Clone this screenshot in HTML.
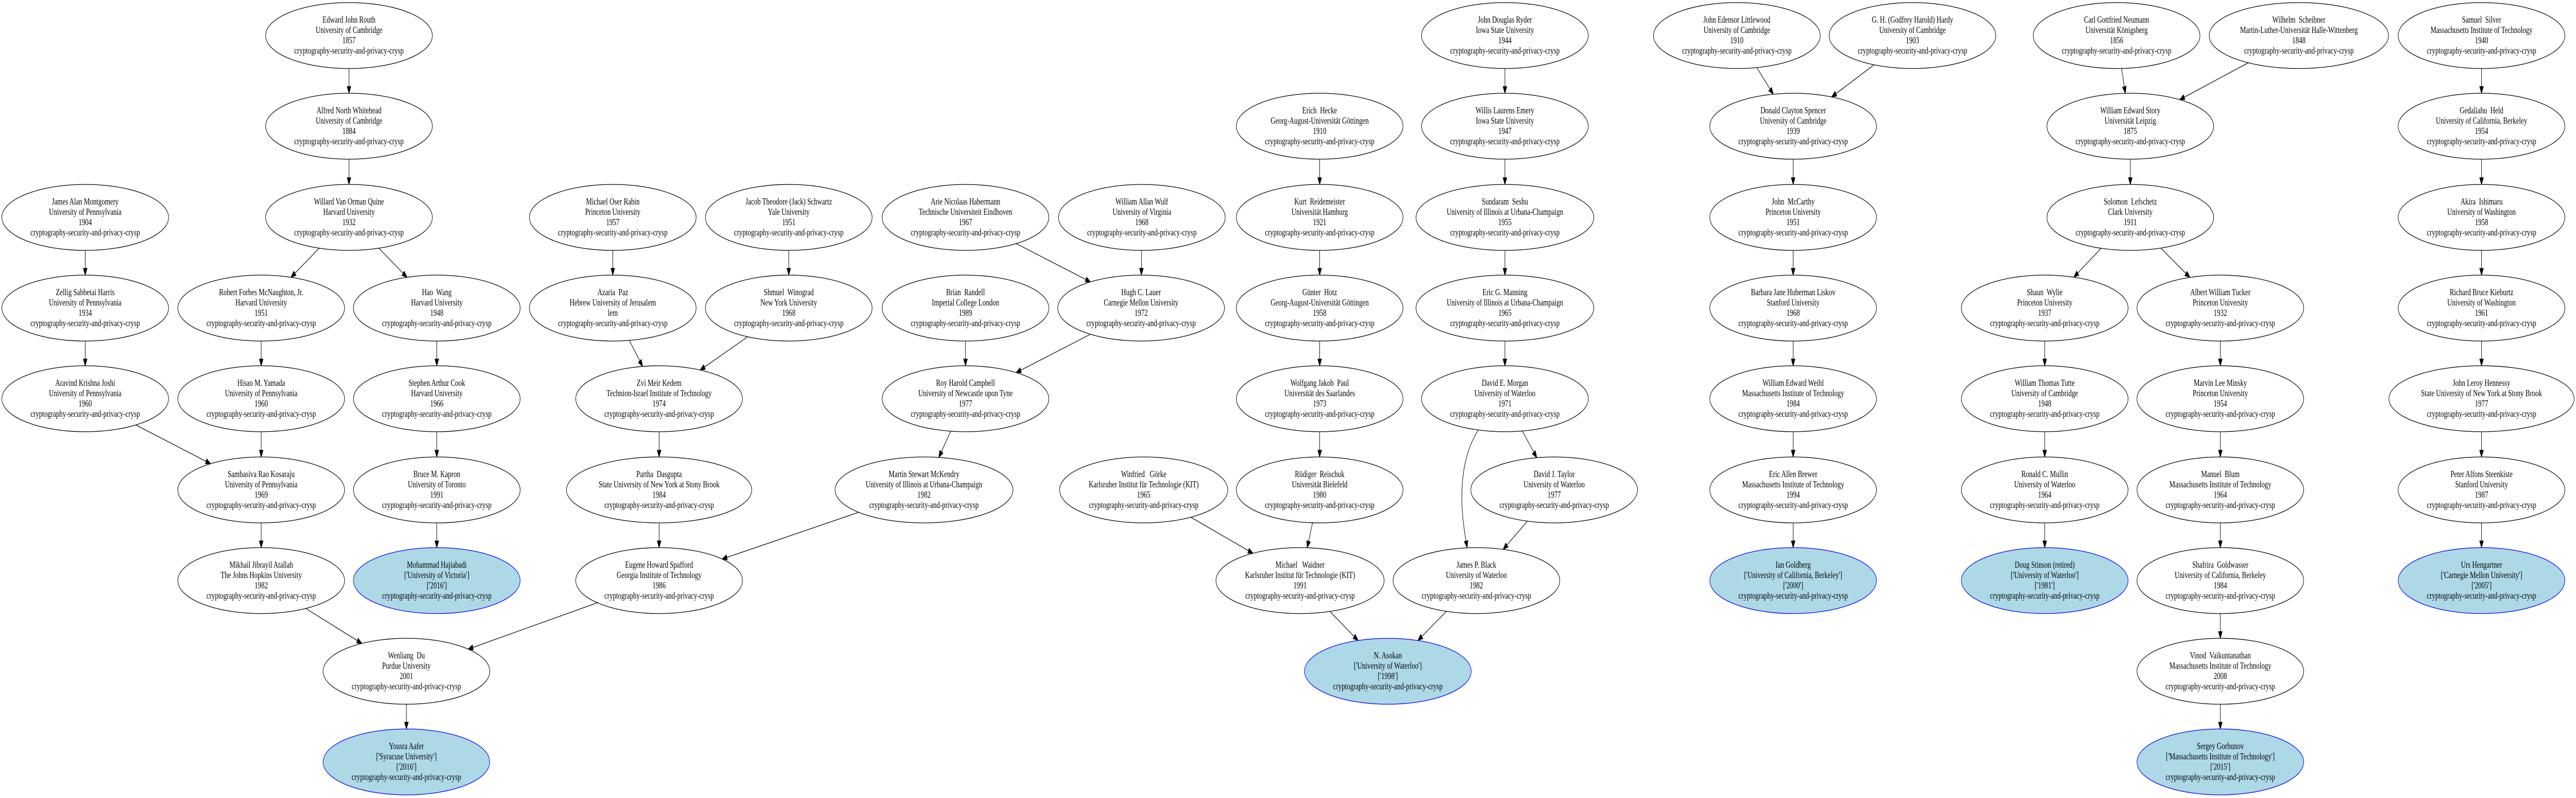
<!DOCTYPE html>
<html><head><meta charset="utf-8"><style>
html,body{margin:0;padding:0;background:#fff;width:100%;height:100%;overflow:hidden;}
svg{display:block;position:fixed;left:0;top:0;width:100vw;height:100vh;}
text{font-family:"Liberation Serif","Times New Roman",serif;font-size:18px;text-anchor:middle;white-space:pre;fill:#000;}
ellipse{fill:#fff;stroke:#000;stroke-width:1.3;}
ellipse.b{fill:#add8e6;stroke:#0000ff;}
</style></head><body>
<svg id="s" viewBox="0 0 6953 1549" preserveAspectRatio="none" xmlns="http://www.w3.org/2000/svg">
<g id="edges"></g>
<g id="nodes">
<g transform="translate(942,69)"><ellipse rx="225" ry="64"/><text><tspan x="0" y="-25">Edward John Routh</tspan><tspan x="0" y="-5">University of Cambridge</tspan><tspan x="0" y="15">1857</tspan><tspan x="0" y="35">cryptography-security-and-privacy-crysp</tspan></text></g>
<g transform="translate(942,245)"><ellipse rx="225" ry="64"/><text><tspan x="0" y="-25">Alfred North Whitehead</tspan><tspan x="0" y="-5">University of Cambridge</tspan><tspan x="0" y="15">1884</tspan><tspan x="0" y="35">cryptography-security-and-privacy-crysp</tspan></text></g>
<g transform="translate(942,422)"><ellipse rx="225" ry="64"/><text><tspan x="0" y="-25">Willard Van Orman Quine</tspan><tspan x="0" y="-5">Harvard University</tspan><tspan x="0" y="15">1932</tspan><tspan x="0" y="35">cryptography-security-and-privacy-crysp</tspan></text></g>
<g transform="translate(230,422)"><ellipse rx="225" ry="64"/><text><tspan x="0" y="-25">James Alan Montgomery</tspan><tspan x="0" y="-5">University of Pennsylvania</tspan><tspan x="0" y="15">1904</tspan><tspan x="0" y="35">cryptography-security-and-privacy-crysp</tspan></text></g>
<g transform="translate(230,598)"><ellipse rx="225" ry="64"/><text><tspan x="0" y="-25">Zellig Sabbetai Harris</tspan><tspan x="0" y="-5">University of Pennsylvania</tspan><tspan x="0" y="15">1934</tspan><tspan x="0" y="35">cryptography-security-and-privacy-crysp</tspan></text></g>
<g transform="translate(705,598)"><ellipse rx="225" ry="64"/><text><tspan x="0" y="-25">Robert Forbes McNaughton, Jr.</tspan><tspan x="0" y="-5">Harvard University</tspan><tspan x="0" y="15">1951</tspan><tspan x="0" y="35">cryptography-security-and-privacy-crysp</tspan></text></g>
<g transform="translate(1179,598)"><ellipse rx="225" ry="64"/><text><tspan x="0" y="-25">Hao  Wang</tspan><tspan x="0" y="-5">Harvard University</tspan><tspan x="0" y="15">1948</tspan><tspan x="0" y="35">cryptography-security-and-privacy-crysp</tspan></text></g>
<g transform="translate(230,774)"><ellipse rx="225" ry="64"/><text><tspan x="0" y="-25">Aravind Krishna Joshi</tspan><tspan x="0" y="-5">University of Pennsylvania</tspan><tspan x="0" y="15">1960</tspan><tspan x="0" y="35">cryptography-security-and-privacy-crysp</tspan></text></g>
<g transform="translate(705,774)"><ellipse rx="225" ry="64"/><text><tspan x="0" y="-25">Hisao M. Yamada</tspan><tspan x="0" y="-5">University of Pennsylvania</tspan><tspan x="0" y="15">1960</tspan><tspan x="0" y="35">cryptography-security-and-privacy-crysp</tspan></text></g>
<g transform="translate(1179,774)"><ellipse rx="225" ry="64"/><text><tspan x="0" y="-25">Stephen Arthur Cook</tspan><tspan x="0" y="-5">Harvard University</tspan><tspan x="0" y="15">1966</tspan><tspan x="0" y="35">cryptography-security-and-privacy-crysp</tspan></text></g>
<g transform="translate(705,951)"><ellipse rx="225" ry="64"/><text><tspan x="0" y="-25">Sambasiva Rao Kosaraju</tspan><tspan x="0" y="-5">University of Pennsylvania</tspan><tspan x="0" y="15">1969</tspan><tspan x="0" y="35">cryptography-security-and-privacy-crysp</tspan></text></g>
<g transform="translate(1179,951)"><ellipse rx="225" ry="64"/><text><tspan x="0" y="-25">Bruce M. Kapron</tspan><tspan x="0" y="-5">University of Toronto</tspan><tspan x="0" y="15">1991</tspan><tspan x="0" y="35">cryptography-security-and-privacy-crysp</tspan></text></g>
<g transform="translate(705,1127)"><ellipse rx="225" ry="64"/><text><tspan x="0" y="-25">Mikhail Jibrayil Atallah</tspan><tspan x="0" y="-5">The Johns Hopkins University</tspan><tspan x="0" y="15">1982</tspan><tspan x="0" y="35">cryptography-security-and-privacy-crysp</tspan></text></g>
<g transform="translate(1179,1127)"><ellipse class="b" rx="225" ry="64"/><text><tspan x="0" y="-25">Mohammad Hajiabadi</tspan><tspan x="0" y="-5">['University of Victoria']</tspan><tspan x="0" y="15">['2016']</tspan><tspan x="0" y="35">cryptography-security-and-privacy-crysp</tspan></text></g>
<g transform="translate(1097,1303)"><ellipse rx="225" ry="64"/><text><tspan x="0" y="-25">Wenliang  Du</tspan><tspan x="0" y="-5">Purdue University</tspan><tspan x="0" y="15">2001</tspan><tspan x="0" y="35">cryptography-security-and-privacy-crysp</tspan></text></g>
<g transform="translate(1097,1479)"><ellipse class="b" rx="225" ry="64"/><text><tspan x="0" y="-25">Yousra Aafer</tspan><tspan x="0" y="-5">['Syracuse University']</tspan><tspan x="0" y="15">['2016']</tspan><tspan x="0" y="35">cryptography-security-and-privacy-crysp</tspan></text></g>

<g transform="translate(1654,422)"><ellipse rx="225" ry="64"/><text><tspan x="0" y="-25">Michael Oser Rabin</tspan><tspan x="0" y="-5">Princeton University</tspan><tspan x="0" y="15">1957</tspan><tspan x="0" y="35">cryptography-security-and-privacy-crysp</tspan></text></g>
<g transform="translate(2129,422)"><ellipse rx="225" ry="64"/><text><tspan x="0" y="-25">Jacob Theodore (Jack) Schwartz</tspan><tspan x="0" y="-5">Yale University</tspan><tspan x="0" y="15">1951</tspan><tspan x="0" y="35">cryptography-security-and-privacy-crysp</tspan></text></g>
<g transform="translate(2606,422)"><ellipse rx="225" ry="64"/><text><tspan x="0" y="-25">Arie Nicolaas Habermann</tspan><tspan x="0" y="-5">Technische Universiteit Eindhoven</tspan><tspan x="0" y="15">1967</tspan><tspan x="0" y="35">cryptography-security-and-privacy-crysp</tspan></text></g>
<g transform="translate(3082,422)"><ellipse rx="225" ry="64"/><text><tspan x="0" y="-25">William Allan Wulf</tspan><tspan x="0" y="-5">University of Virginia</tspan><tspan x="0" y="15">1968</tspan><tspan x="0" y="35">cryptography-security-and-privacy-crysp</tspan></text></g>
<g transform="translate(1654,598)"><ellipse rx="225" ry="64"/><text><tspan x="0" y="-25">Azaria  Paz</tspan><tspan x="0" y="-5">Hebrew University of Jerusalem</tspan><tspan x="0" y="15">lem</tspan><tspan x="0" y="35">cryptography-security-and-privacy-crysp</tspan></text></g>
<g transform="translate(2129,598)"><ellipse rx="225" ry="64"/><text><tspan x="0" y="-25">Shmuel  Winograd</tspan><tspan x="0" y="-5">New York University</tspan><tspan x="0" y="15">1968</tspan><tspan x="0" y="35">cryptography-security-and-privacy-crysp</tspan></text></g>
<g transform="translate(2606,598)"><ellipse rx="225" ry="64"/><text><tspan x="0" y="-25">Brian  Randell</tspan><tspan x="0" y="-5">Imperial College London</tspan><tspan x="0" y="15">1989</tspan><tspan x="0" y="35">cryptography-security-and-privacy-crysp</tspan></text></g>
<g transform="translate(3080,598)"><ellipse rx="225" ry="64"/><text><tspan x="0" y="-25">Hugh C. Lauer</tspan><tspan x="0" y="-5">Carnegie Mellon University</tspan><tspan x="0" y="15">1972</tspan><tspan x="0" y="35">cryptography-security-and-privacy-crysp</tspan></text></g>
<g transform="translate(1779,774)"><ellipse rx="225" ry="64"/><text><tspan x="0" y="-25">Zvi Meir Kedem</tspan><tspan x="0" y="-5">Technion-Israel Institute of Technology</tspan><tspan x="0" y="15">1974</tspan><tspan x="0" y="35">cryptography-security-and-privacy-crysp</tspan></text></g>
<g transform="translate(2606,774)"><ellipse rx="225" ry="64"/><text><tspan x="0" y="-25">Roy Harold Campbell</tspan><tspan x="0" y="-5">University of Newcastle upon Tyne</tspan><tspan x="0" y="15">1977</tspan><tspan x="0" y="35">cryptography-security-and-privacy-crysp</tspan></text></g>
<g transform="translate(1779,951)"><ellipse rx="250" ry="64"/><text><tspan x="0" y="-25">Partha  Dasgupta</tspan><tspan x="0" y="-5">State University of New York at Stony Brook</tspan><tspan x="0" y="15">1984</tspan><tspan x="0" y="35">cryptography-security-and-privacy-crysp</tspan></text></g>
<g transform="translate(2494,951)"><ellipse rx="240" ry="64"/><text><tspan x="0" y="-25">Martin Stewart McKendry</tspan><tspan x="0" y="-5">University of Illinois at Urbana-Champaign</tspan><tspan x="0" y="15">1982</tspan><tspan x="0" y="35">cryptography-security-and-privacy-crysp</tspan></text></g>
<g transform="translate(1779,1127)"><ellipse rx="225" ry="64"/><text><tspan x="0" y="-25">Eugene Howard Spafford</tspan><tspan x="0" y="-5">Georgia Institute of Technology</tspan><tspan x="0" y="15">1986</tspan><tspan x="0" y="35">cryptography-security-and-privacy-crysp</tspan></text></g>

<g transform="translate(3562,245)"><ellipse rx="225" ry="64"/><text><tspan x="0" y="-25">Erich  Hecke</tspan><tspan x="0" y="-5">Georg-August-Universität Göttingen</tspan><tspan x="0" y="15">1910</tspan><tspan x="0" y="35">cryptography-security-and-privacy-crysp</tspan></text></g>
<g transform="translate(3562,422)"><ellipse rx="225" ry="64"/><text><tspan x="0" y="-25">Kurt  Reidemeister</tspan><tspan x="0" y="-5">Universität Hamburg</tspan><tspan x="0" y="15">1921</tspan><tspan x="0" y="35">cryptography-security-and-privacy-crysp</tspan></text></g>
<g transform="translate(3562,598)"><ellipse rx="225" ry="64"/><text><tspan x="0" y="-25">Günter  Hotz</tspan><tspan x="0" y="-5">Georg-August-Universität Göttingen</tspan><tspan x="0" y="15">1958</tspan><tspan x="0" y="35">cryptography-security-and-privacy-crysp</tspan></text></g>
<g transform="translate(3562,774)"><ellipse rx="225" ry="64"/><text><tspan x="0" y="-25">Wolfgang Jakob  Paul</tspan><tspan x="0" y="-5">Universität des Saarlandes</tspan><tspan x="0" y="15">1973</tspan><tspan x="0" y="35">cryptography-security-and-privacy-crysp</tspan></text></g>
<g transform="translate(3562,951)"><ellipse rx="225" ry="64"/><text><tspan x="0" y="-25">Rüdiger  Reischuk</tspan><tspan x="0" y="-5">Universität Bielefeld</tspan><tspan x="0" y="15">1980</tspan><tspan x="0" y="35">cryptography-security-and-privacy-crysp</tspan></text></g>
<g transform="translate(3087,951)"><ellipse rx="227" ry="64"/><text><tspan x="0" y="-25">Winfried   Görke</tspan><tspan x="0" y="-5">Karlsruher Institut für Technologie (KIT)</tspan><tspan x="0" y="15">1965</tspan><tspan x="0" y="35">cryptography-security-and-privacy-crysp</tspan></text></g>
<g transform="translate(3509,1127)"><ellipse rx="227" ry="64"/><text><tspan x="0" y="-25">Michael   Waidner</tspan><tspan x="0" y="-5">Karlsruher Institut für Technologie (KIT)</tspan><tspan x="0" y="15">1991</tspan><tspan x="0" y="35">cryptography-security-and-privacy-crysp</tspan></text></g>
<g transform="translate(3746,1303)"><ellipse class="b" rx="225" ry="64"/><text><tspan x="0" y="-25">N. Asokan</tspan><tspan x="0" y="-5">['University of Waterloo']</tspan><tspan x="0" y="15">['1998']</tspan><tspan x="0" y="35">cryptography-security-and-privacy-crysp</tspan></text></g>

<g transform="translate(4062,69)"><ellipse rx="225" ry="64"/><text><tspan x="0" y="-25">John Douglas Ryder</tspan><tspan x="0" y="-5">Iowa State University</tspan><tspan x="0" y="15">1944</tspan><tspan x="0" y="35">cryptography-security-and-privacy-crysp</tspan></text></g>
<g transform="translate(4062,245)"><ellipse rx="225" ry="64"/><text><tspan x="0" y="-25">Willis Laurens Emery</tspan><tspan x="0" y="-5">Iowa State University</tspan><tspan x="0" y="15">1947</tspan><tspan x="0" y="35">cryptography-security-and-privacy-crysp</tspan></text></g>
<g transform="translate(4062,422)"><ellipse rx="240" ry="64"/><text><tspan x="0" y="-25">Sundaram  Seshu</tspan><tspan x="0" y="-5">University of Illinois at Urbana-Champaign</tspan><tspan x="0" y="15">1955</tspan><tspan x="0" y="35">cryptography-security-and-privacy-crysp</tspan></text></g>
<g transform="translate(4062,598)"><ellipse rx="240" ry="64"/><text><tspan x="0" y="-25">Eric G. Manning</tspan><tspan x="0" y="-5">University of Illinois at Urbana-Champaign</tspan><tspan x="0" y="15">1965</tspan><tspan x="0" y="35">cryptography-security-and-privacy-crysp</tspan></text></g>
<g transform="translate(4062,774)"><ellipse rx="225" ry="64"/><text><tspan x="0" y="-25">David E. Morgan</tspan><tspan x="0" y="-5">University of Waterloo</tspan><tspan x="0" y="15">1971</tspan><tspan x="0" y="35">cryptography-security-and-privacy-crysp</tspan></text></g>
<g transform="translate(4195,951)"><ellipse rx="225" ry="64"/><text><tspan x="0" y="-25">David J. Taylor</tspan><tspan x="0" y="-5">University of Waterloo</tspan><tspan x="0" y="15">1977</tspan><tspan x="0" y="35">cryptography-security-and-privacy-crysp</tspan></text></g>
<g transform="translate(3985,1127)"><ellipse rx="225" ry="64"/><text><tspan x="0" y="-25">James P. Black</tspan><tspan x="0" y="-5">University of Waterloo</tspan><tspan x="0" y="15">1982</tspan><tspan x="0" y="35">cryptography-security-and-privacy-crysp</tspan></text></g>

<g transform="translate(4688,69)"><ellipse rx="225" ry="64"/><text><tspan x="0" y="-25">John Edensor Littlewood</tspan><tspan x="0" y="-5">University of Cambridge</tspan><tspan x="0" y="15">1910</tspan><tspan x="0" y="35">cryptography-security-and-privacy-crysp</tspan></text></g>
<g transform="translate(5162,69)"><ellipse rx="225" ry="64"/><text><tspan x="0" y="-25">G. H. (Godfrey Harold) Hardy</tspan><tspan x="0" y="-5">University of Cambridge</tspan><tspan x="0" y="15">1903</tspan><tspan x="0" y="35">cryptography-security-and-privacy-crysp</tspan></text></g>
<g transform="translate(4840,245)"><ellipse rx="225" ry="64"/><text><tspan x="0" y="-25">Donald Clayton Spencer</tspan><tspan x="0" y="-5">University of Cambridge</tspan><tspan x="0" y="15">1939</tspan><tspan x="0" y="35">cryptography-security-and-privacy-crysp</tspan></text></g>
<g transform="translate(4840,422)"><ellipse rx="225" ry="64"/><text><tspan x="0" y="-25">John  McCarthy</tspan><tspan x="0" y="-5">Princeton University</tspan><tspan x="0" y="15">1951</tspan><tspan x="0" y="35">cryptography-security-and-privacy-crysp</tspan></text></g>
<g transform="translate(4840,598)"><ellipse rx="225" ry="64"/><text><tspan x="0" y="-25">Barbara Jane Huberman Liskov</tspan><tspan x="0" y="-5">Stanford University</tspan><tspan x="0" y="15">1968</tspan><tspan x="0" y="35">cryptography-security-and-privacy-crysp</tspan></text></g>
<g transform="translate(4840,774)"><ellipse rx="225" ry="64"/><text><tspan x="0" y="-25">William Edward Weihl</tspan><tspan x="0" y="-5">Massachusetts Institute of Technology</tspan><tspan x="0" y="15">1984</tspan><tspan x="0" y="35">cryptography-security-and-privacy-crysp</tspan></text></g>
<g transform="translate(4840,951)"><ellipse rx="225" ry="64"/><text><tspan x="0" y="-25">Eric Allen Brewer</tspan><tspan x="0" y="-5">Massachusetts Institute of Technology</tspan><tspan x="0" y="15">1994</tspan><tspan x="0" y="35">cryptography-security-and-privacy-crysp</tspan></text></g>
<g transform="translate(4840,1127)"><ellipse class="b" rx="225" ry="64"/><text><tspan x="0" y="-25">Ian Goldberg</tspan><tspan x="0" y="-5">['University of California, Berkeley']</tspan><tspan x="0" y="15">['2000']</tspan><tspan x="0" y="35">cryptography-security-and-privacy-crysp</tspan></text></g>

<g transform="translate(5713,69)"><ellipse rx="225" ry="64"/><text><tspan x="0" y="-25">Carl Gottfried Neumann</tspan><tspan x="0" y="-5">Universität Königsberg</tspan><tspan x="0" y="15">1856</tspan><tspan x="0" y="35">cryptography-security-and-privacy-crysp</tspan></text></g>
<g transform="translate(6205,69)"><ellipse rx="242" ry="64"/><text><tspan x="0" y="-25">Wilhelm  Scheibner</tspan><tspan x="0" y="-5">Martin-Luther-Universität Halle-Wittenberg</tspan><tspan x="0" y="15">1848</tspan><tspan x="0" y="35">cryptography-security-and-privacy-crysp</tspan></text></g>
<g transform="translate(5750,245)"><ellipse rx="225" ry="64"/><text><tspan x="0" y="-25">William Edward Story</tspan><tspan x="0" y="-5">Universität Leipzig</tspan><tspan x="0" y="15">1875</tspan><tspan x="0" y="35">cryptography-security-and-privacy-crysp</tspan></text></g>
<g transform="translate(5750,422)"><ellipse rx="225" ry="64"/><text><tspan x="0" y="-25">Solomon  Lefschetz</tspan><tspan x="0" y="-5">Clark University</tspan><tspan x="0" y="15">1911</tspan><tspan x="0" y="35">cryptography-security-and-privacy-crysp</tspan></text></g>
<g transform="translate(5519,598)"><ellipse rx="225" ry="64"/><text><tspan x="0" y="-25">Shaun  Wylie</tspan><tspan x="0" y="-5">Princeton University</tspan><tspan x="0" y="15">1937</tspan><tspan x="0" y="35">cryptography-security-and-privacy-crysp</tspan></text></g>
<g transform="translate(5993,598)"><ellipse rx="225" ry="64"/><text><tspan x="0" y="-25">Albert William Tucker</tspan><tspan x="0" y="-5">Princeton University</tspan><tspan x="0" y="15">1932</tspan><tspan x="0" y="35">cryptography-security-and-privacy-crysp</tspan></text></g>
<g transform="translate(5519,774)"><ellipse rx="225" ry="64"/><text><tspan x="0" y="-25">William Thomas Tutte</tspan><tspan x="0" y="-5">University of Cambridge</tspan><tspan x="0" y="15">1948</tspan><tspan x="0" y="35">cryptography-security-and-privacy-crysp</tspan></text></g>
<g transform="translate(5993,774)"><ellipse rx="225" ry="64"/><text><tspan x="0" y="-25">Marvin Lee Minsky</tspan><tspan x="0" y="-5">Princeton University</tspan><tspan x="0" y="15">1954</tspan><tspan x="0" y="35">cryptography-security-and-privacy-crysp</tspan></text></g>
<g transform="translate(5519,951)"><ellipse rx="225" ry="64"/><text><tspan x="0" y="-25">Ronald C. Mullin</tspan><tspan x="0" y="-5">University of Waterloo</tspan><tspan x="0" y="15">1964</tspan><tspan x="0" y="35">cryptography-security-and-privacy-crysp</tspan></text></g>
<g transform="translate(5993,951)"><ellipse rx="225" ry="64"/><text><tspan x="0" y="-25">Manuel  Blum</tspan><tspan x="0" y="-5">Massachusetts Institute of Technology</tspan><tspan x="0" y="15">1964</tspan><tspan x="0" y="35">cryptography-security-and-privacy-crysp</tspan></text></g>
<g transform="translate(5519,1127)"><ellipse class="b" rx="225" ry="64"/><text><tspan x="0" y="-25">Doug Stinson (retired)</tspan><tspan x="0" y="-5">['University of Waterloo']</tspan><tspan x="0" y="15">['1981']</tspan><tspan x="0" y="35">cryptography-security-and-privacy-crysp</tspan></text></g>
<g transform="translate(5993,1127)"><ellipse rx="225" ry="64"/><text><tspan x="0" y="-25">Shafrira  Goldwasser</tspan><tspan x="0" y="-5">University of California, Berkeley</tspan><tspan x="0" y="15">1984</tspan><tspan x="0" y="35">cryptography-security-and-privacy-crysp</tspan></text></g>
<g transform="translate(5993,1303)"><ellipse rx="225" ry="64"/><text><tspan x="0" y="-25">Vinod  Vaikuntanathan</tspan><tspan x="0" y="-5">Massachusetts Institute of Technology</tspan><tspan x="0" y="15">2008</tspan><tspan x="0" y="35">cryptography-security-and-privacy-crysp</tspan></text></g>
<g transform="translate(5993,1479)"><ellipse class="b" rx="225" ry="64"/><text><tspan x="0" y="-25">Sergey Gorbunov</tspan><tspan x="0" y="-5">['Massachusetts Institute of Technology']</tspan><tspan x="0" y="15">['2015']</tspan><tspan x="0" y="35">cryptography-security-and-privacy-crysp</tspan></text></g>

<g transform="translate(6698,69)"><ellipse rx="225" ry="64"/><text><tspan x="0" y="-25">Samuel  Silver</tspan><tspan x="0" y="-5">Massachusetts Institute of Technology</tspan><tspan x="0" y="15">1940</tspan><tspan x="0" y="35">cryptography-security-and-privacy-crysp</tspan></text></g>
<g transform="translate(6698,245)"><ellipse rx="225" ry="64"/><text><tspan x="0" y="-25">Gedaliahu  Held</tspan><tspan x="0" y="-5">University of California, Berkeley</tspan><tspan x="0" y="15">1954</tspan><tspan x="0" y="35">cryptography-security-and-privacy-crysp</tspan></text></g>
<g transform="translate(6698,422)"><ellipse rx="225" ry="64"/><text><tspan x="0" y="-25">Akira  Ishimaru</tspan><tspan x="0" y="-5">University of Washington</tspan><tspan x="0" y="15">1958</tspan><tspan x="0" y="35">cryptography-security-and-privacy-crysp</tspan></text></g>
<g transform="translate(6698,598)"><ellipse rx="225" ry="64"/><text><tspan x="0" y="-25">Richard Bruce Kieburtz</tspan><tspan x="0" y="-5">University of Washington</tspan><tspan x="0" y="15">1961</tspan><tspan x="0" y="35">cryptography-security-and-privacy-crysp</tspan></text></g>
<g transform="translate(6698,774)"><ellipse rx="250" ry="64"/><text><tspan x="0" y="-25">John Leroy Hennessy</tspan><tspan x="0" y="-5">State University of New York at Stony Brook</tspan><tspan x="0" y="15">1977</tspan><tspan x="0" y="35">cryptography-security-and-privacy-crysp</tspan></text></g>
<g transform="translate(6698,951)"><ellipse rx="225" ry="64"/><text><tspan x="0" y="-25">Peter Alfons Steenkiste</tspan><tspan x="0" y="-5">Stanford University</tspan><tspan x="0" y="15">1987</tspan><tspan x="0" y="35">cryptography-security-and-privacy-crysp</tspan></text></g>
<g transform="translate(6698,1127)"><ellipse class="b" rx="225" ry="64"/><text><tspan x="0" y="-25">Urs Hengartner</tspan><tspan x="0" y="-5">['Carnegie Mellon University']</tspan><tspan x="0" y="15">['2005']</tspan><tspan x="0" y="35">cryptography-security-and-privacy-crysp</tspan></text></g>
</g>
</svg>
<script>
(function(){
var R=[0,69,245,422,598,774,951,1127,1303,1479];
var N={
routh:[942,1],whitehead:[942,2],quine:[942,3],montgomery:[230,3],harris:[230,4],mcnaughton:[705,4],wang:[1179,4],
joshi:[230,5],yamada:[705,5],cook:[1179,5],kosaraju:[705,6],kapron:[1179,6],atallah:[705,7],hajiabadi:[1179,7],du:[1097,8],aafer:[1097,9],
rabin:[1654,3],schwartz:[2129,3],habermann:[2606,3],wulf:[3082,3],paz:[1654,4],winograd:[2129,4],randell:[2606,4],lauer:[3080,4],
kedem:[1779,5],campbell:[2606,5],dasgupta:[1779,6,250],mckendry:[2494,6,240],spafford:[1779,7],
hecke:[3562,2],reidemeister:[3562,3],hotz:[3562,4],paul:[3562,5],reischuk:[3562,6],gorke:[3087,6,227],waidner:[3509,7,227],asokan:[3746,8],
ryder:[4062,1],emery:[4062,2],seshu:[4062,3,240],manning:[4062,4,240],morgan:[4062,5],taylor:[4195,6],black:[3985,7],
littlewood:[4688,1],hardy:[5162,1],spencer:[4840,2],mccarthy:[4840,3],liskov:[4840,4],weihl:[4840,5],brewer:[4840,6],goldberg:[4840,7],
neumann:[5713,1],scheibner:[6205,1,242],story:[5750,2],lefschetz:[5750,3],wylie:[5519,4],tucker:[5993,4],tutte:[5519,5],minsky:[5993,5],
mullin:[5519,6],blum:[5993,6],stinson:[5519,7],goldwasser:[5993,7],vinod:[5993,8],gorbunov:[5993,9],
silver:[6698,1],held:[6698,2],ishimaru:[6698,3],kieburtz:[6698,4],hennessy:[6698,5,250],steenkiste:[6698,6],hengartner:[6698,7]
};
var E=[["routh","whitehead"],["whitehead","quine"],["quine","mcnaughton"],["quine","wang"],["montgomery","harris"],["harris","joshi"],
["mcnaughton","yamada"],["wang","cook"],["joshi","kosaraju"],["yamada","kosaraju"],["cook","kapron"],["kosaraju","atallah"],["kapron","hajiabadi"],
["atallah","du"],["spafford","du"],["du","aafer"],["rabin","paz"],["schwartz","winograd"],["paz","kedem"],["winograd","kedem"],["kedem","dasgupta"],
["dasgupta","spafford"],["randell","campbell"],["campbell","mckendry"],["mckendry","spafford"],["habermann","lauer"],["wulf","lauer"],["lauer","campbell"],
["hecke","reidemeister"],["reidemeister","hotz"],["hotz","paul"],["paul","reischuk"],["reischuk","waidner"],["gorke","waidner"],["waidner","asokan"],["black","asokan"],
["ryder","emery"],["emery","seshu"],["seshu","manning"],["manning","morgan"],["morgan","taylor"],["taylor","black"],
["littlewood","spencer"],["hardy","spencer"],["spencer","mccarthy"],["mccarthy","liskov"],["liskov","weihl"],["weihl","brewer"],["brewer","goldberg"],
["neumann","story"],["scheibner","story"],["story","lefschetz"],["lefschetz","wylie"],["lefschetz","tucker"],["wylie","tutte"],["tutte","mullin"],["mullin","stinson"],
["tucker","minsky"],["minsky","blum"],["blum","goldwasser"],["goldwasser","vinod"],["vinod","gorbunov"],
["silver","held"],["held","ishimaru"],["ishimaru","kieburtz"],["kieburtz","hennessy"],["hennessy","steenkiste"],["steenkiste","hengartner"]];
var g=document.getElementById("edges"),ns="http://www.w3.org/2000/svg",RY=64;
function el(n,a){var e=document.createElementNS(ns,n);for(var k in a)e.setAttribute(k,a[k]);g.appendChild(e);return e;}
function arrow(tx,ty,ux,uy){var L=13,W=5;var bx=tx-ux*L,by=ty-uy*L;
el("polygon",{points:tx+","+ty+" "+(bx-uy*W)+","+(by+ux*W)+" "+(bx+uy*W)+","+(by-ux*W),fill:"#000",stroke:"#000","stroke-width":"1.3"});return [bx,by];}
E.forEach(function(e){
var p=N[e[0]],c=N[e[1]];var px=p[0],py=R[p[1]],prx=p[2]||225,cx=c[0],cy=R[c[1]],crx=c[2]||225;
var dx=cx-px,dy=cy-py,l=Math.sqrt(dx*dx+dy*dy),ux=dx/l,uy=dy/l;
var t1=1/Math.sqrt(Math.pow(ux/prx,2)+Math.pow(uy/RY,2));
var t2=1/Math.sqrt(Math.pow(ux/crx,2)+Math.pow(uy/RY,2));
var sx=px+ux*t1,sy=py+uy*t1,ex=cx-ux*t2,ey=cy-uy*t2;
var b=arrow(ex,ey,ux,uy);
el("line",{x1:sx,y1:sy,x2:b[0],y2:b[1],stroke:"#000","stroke-width":"1.3"});
});
el("path",{d:"M3990,835 C3945,885 3935,960 3957,1050",fill:"none",stroke:"#000","stroke-width":"1.3"});
arrow(3960,1063,0.22,0.975);
})();
</script>
</body></html>
